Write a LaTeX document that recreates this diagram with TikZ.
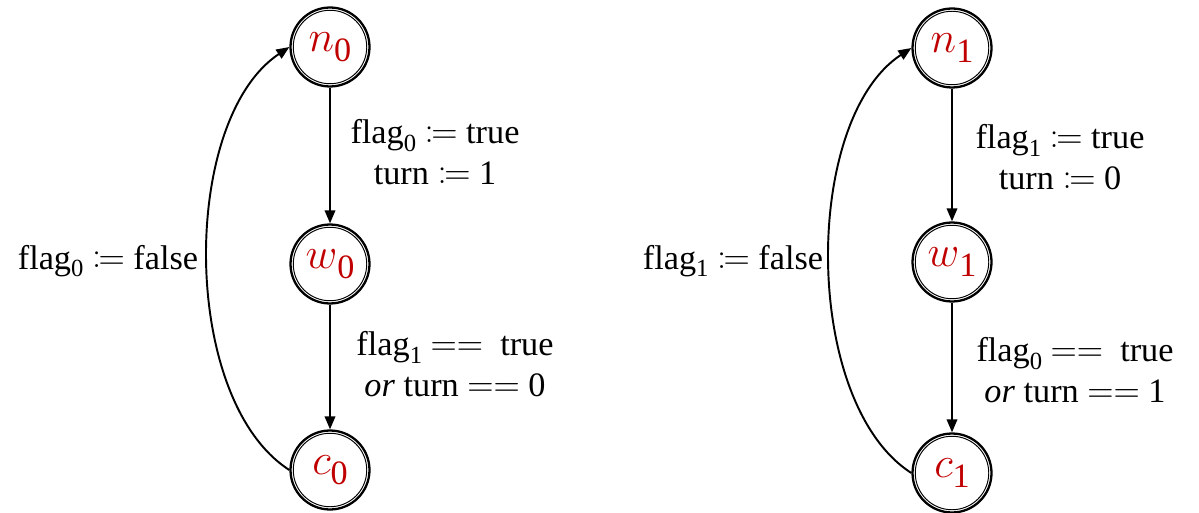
\documentclass[tikz,border=0pt]{standalone}
\usepackage{fontspec}
\usepackage{mathtools}
\setmainfont{Liberation Serif}
\usetikzlibrary{arrows.meta}
\definecolor{statered}{RGB}{192,0,0}
\newcommand\sbs[1]{\raisebox{-0.22em}{\scalebox{0.72}{#1}}}
\begin{document}
\begin{tikzpicture}[x=0.02cm,y=-0.02cm,
  state/.style={circle,draw,line width=1.3pt,
    minimum size=1.58cm,inner sep=0pt,text=statered,
    font=\fontsize{27}{30}\selectfont,
    path picture={\draw[line width=0.55pt] (path picture bounding box.center) circle (0.735cm);}},
  lbl/.style={align=center,inner sep=0pt,font=\fontsize{19.5}{23.2}\selectfont},
  arr/.style={line width=1.1pt,-{Triangle[length=0.26cm,width=0.21cm]}}]
\useasboundingbox (0,0) rectangle (1199,513);
% left automaton
\node[state] (n0) at (330,47) {$n$\sbs{0}};
\node[state] (w0) at (330,264) {$w$\sbs{0}};
\node[state] (c0) at (330,470) {$c$\sbs{0}};
\draw[arr] (n0) -- (w0);
\draw[arr] (w0) -- (c0);
\draw[arr] (c0.west) .. controls (180,400) and (180,120) .. (n0.west);
\node[lbl] (l1) at (435,152) {flag\sbs{0} $\coloneqq$ true\\turn $\coloneqq$ 1};
\node[lbl] (l2) at (455,364) {flag\sbs{1} $==$\ \ true\\\textit{or} turn $==$ 0};
\node[lbl] (l3) at (108,261) {flag\sbs{0} $\coloneqq$ false};
% right automaton
\node[state] (n1) at (952,48) {$n$\sbs{1}};
\node[state] (w1) at (952,262) {$w$\sbs{1}};
\node[state] (c1) at (952,473) {$c$\sbs{1}};
\draw[arr] (n1) -- (w1);
\draw[arr] (w1) -- (c1);
\draw[arr] (c1.west) .. controls (802,403) and (802,120) .. (n1.west);
\node[lbl] (r1) at (1060,157) {flag\sbs{1} $\coloneqq$ true\\turn $\coloneqq$ 0};
\node[lbl] (r2) at (1075,370) {flag\sbs{0} $==$\ \ true\\\textit{or} turn $==$ 1};
\node[lbl] (r3) at (733,261) {flag\sbs{1} $\coloneqq$ false};
\end{tikzpicture}
\end{document}
